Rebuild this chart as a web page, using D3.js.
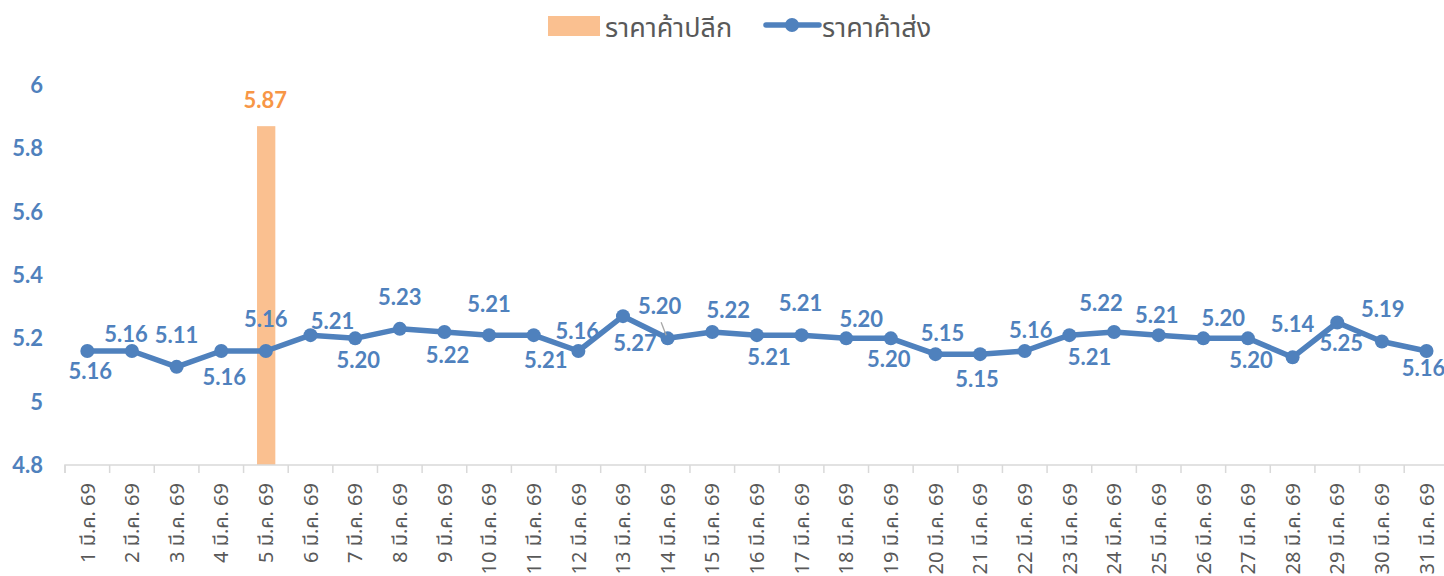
<!DOCTYPE html>
<html>
<head>
<meta charset="utf-8">
<script src="https://cdn.jsdelivr.net/npm/d3@7"></script>
<style>
  html, body { margin: 0; padding: 0; background: #fff; overflow: hidden; }
  svg { display: block; }
</style>
</head>
<body>
<svg id="chart" width="1444" height="576"></svg>
<script>
// ---------- data ----------
const categories = Array.from({length: 31}, (_, i) => `${i + 1} มี.ค. 69`);
const wholesale = [5.16, 5.16, 5.11, 5.16, 5.16, 5.21, 5.20, 5.23, 5.22, 5.21,
                   5.21, 5.16, 5.27, 5.20, 5.22, 5.21, 5.21, 5.20, 5.20, 5.15,
                   5.15, 5.16, 5.21, 5.22, 5.21, 5.20, 5.20, 5.14, 5.25, 5.19, 5.16];
const retail = [null, null, null, null, 5.87, null, null, null, null, null,
                null, null, null, null, null, null, null, null, null, null,
                null, null, null, null, null, null, null, null, null, null, null];
const yTicks = [4.8, 5, 5.2, 5.4, 5.6, 5.8, 6];
const seriesNames = ["ราคาค้าปลีก", "ราคาค้าส่ง"];

// label placement (layout, px offsets from point)
const labelOffsets = [
  [3, 20], [-6, -17], [0, -32], [3, 26], [0, -32], [22, -14], [3, 22], [0, -32], [3, 23], [0, -31],
  [12, 25], [-1, -20], [12, 27], [-8, -32], [16, -22], [12, 22], [-1, -32], [15, -19], [-2, 21], [7, -21],
  [-3, 25], [6, -21], [20, 22], [-13, -29], [-2, -20], [20, -20], [3, 22], [0, -33], [4, 21], [1, -32], [-3, 17]
];

// ---------- layout ----------
const svg = d3.select("#chart");
const blue = "#4F81BD", orange = "#F79646", barFill = "#FAC090", grey = "#595959";
const numFont = "Lato, 'Open Sans', sans-serif";
const thaiFont = "'Noto Sans Thai', 'Noto Sans', 'Leelawadee UI', Tahoma, sans-serif";
const numSize = 22;

const x = d3.scaleBand().domain(categories).range([65, 65 + 31 * 44.64]);
const y = d3.scaleLinear().domain([4.8, 6]).range([465, 85]);
const cx = c => x(c) + x.bandwidth() / 2;

// Y tick labels
svg.append("g").selectAll("text").data(yTicks).join("text")
  .attr("x", 43).attr("y", d => y(d)).attr("dy", "0.36em")
  .attr("text-anchor", "end")
  .attr("font-family", numFont).attr("font-weight", "bold").attr("font-size", numSize)
  .attr("fill", blue)
  .text(d => d);

// Bars (retail)
const barW = 18.3;
svg.append("g").selectAll("rect")
  .data(categories.map((c, i) => ({c, v: retail[i]})).filter(d => d.v != null))
  .join("rect")
  .attr("x", d => cx(d.c) - barW / 2 + 0.3)
  .attr("y", d => y(d.v))
  .attr("width", barW)
  .attr("height", d => y(4.8) - y(d.v))
  .attr("fill", barFill);

// X axis
const xAxis = d3.axisBottom(x).tickSize(8).tickFormat("");
const gx = svg.append("g").attr("transform", "translate(0,465)").call(xAxis);
gx.select(".domain").attr("stroke", "#D9D9D9").attr("stroke-width", 1.5)
  .attr("d", `M65,8V0H${65 + 31 * 44.64}V8`);
gx.selectAll(".tick line").attr("stroke", "#D9D9D9").attr("stroke-width", 1.5)
  .attr("transform", `translate(${-x.bandwidth() / 2},0)`);

// X labels rotated
svg.append("g").selectAll("text").data(categories).join("text")
  .attr("transform", d => `translate(${cx(d)},483) rotate(-90)`)
  .attr("dy", "0.36em")
  .attr("text-anchor", "end")
  .attr("font-family", thaiFont).attr("font-size", 20)
  .attr("fill", grey)
  .text(d => d);

// Line (wholesale)
const pts = categories.map((c, i) => ({c, v: wholesale[i], i}));
svg.append("path").datum(pts)
  .attr("fill", "none").attr("stroke", blue).attr("stroke-width", 5.5)
  .attr("stroke-linejoin", "round")
  .attr("d", d3.line().x(d => cx(d.c)).y(d => y(d.v)));
svg.append("g").selectAll("circle").data(pts).join("circle")
  .attr("cx", d => cx(d.c)).attr("cy", d => y(d.v)).attr("r", 7)
  .attr("fill", blue);

// leader line for label 14
const p14 = pts[13];
svg.append("line")
  .attr("x1", cx(p14.c) - 6.5).attr("y1", y(p14.v) - 16)
  .attr("x2", cx(p14.c) - 1.5).attr("y2", y(p14.v) - 3)
  .attr("stroke", "#A6A6A6").attr("stroke-width", 1.3);

// Line data labels
svg.append("g").selectAll("text").data(pts).join("text")
  .attr("x", d => cx(d.c) + labelOffsets[d.i][0])
  .attr("y", d => y(d.v) + labelOffsets[d.i][1])
  .attr("dy", "0.36em").attr("text-anchor", "middle")
  .attr("font-family", numFont).attr("font-weight", "bold").attr("font-size", numSize)
  .attr("fill", blue)
  .text(d => d3.format(".2f")(d.v));

// Bar data label
svg.append("g").selectAll("text")
  .data(categories.map((c, i) => ({c, v: retail[i]})).filter(d => d.v != null))
  .join("text")
  .attr("x", d => cx(d.c) - 0.5).attr("y", d => y(d.v) - 26)
  .attr("dy", "0.36em").attr("text-anchor", "middle")
  .attr("font-family", numFont).attr("font-weight", "bold").attr("font-size", numSize)
  .attr("fill", orange)
  .text(d => d3.format(".2f")(d.v));

// Legend
const lg = svg.append("g");
lg.append("rect").attr("x", 548).attr("y", 16).attr("width", 52).attr("height", 20).attr("fill", barFill);
lg.append("text").attr("x", 605).attr("y", 27).attr("dy", "0.36em")
  .attr("font-family", thaiFont).attr("font-size", 27).attr("fill", grey).text(seriesNames[0]);
lg.append("line").attr("x1", 766).attr("x2", 819).attr("y1", 25).attr("y2", 25)
  .attr("stroke", blue).attr("stroke-width", 5.5).attr("stroke-linecap", "round");
lg.append("circle").attr("cx", 792).attr("cy", 25).attr("r", 7).attr("fill", blue);
lg.append("text").attr("x", 822).attr("y", 27).attr("dy", "0.36em")
  .attr("font-family", thaiFont).attr("font-size", 27).attr("fill", grey).text(seriesNames[1]);
</script>
</body>
</html>
